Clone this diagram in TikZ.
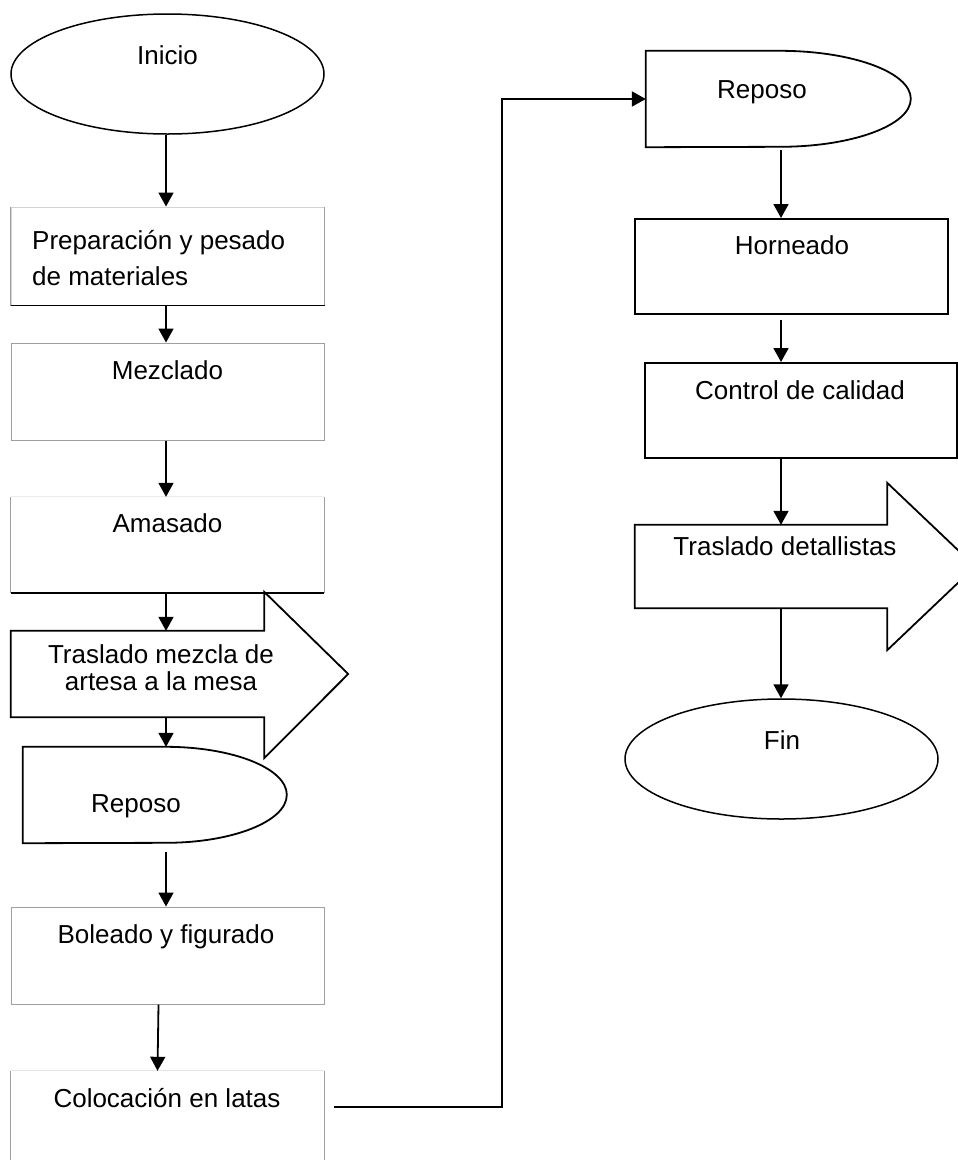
\documentclass[tikz,border=0pt]{standalone}
\usepackage{fontspec}
\setmainfont{Liberation Sans}
\usetikzlibrary{arrows.meta,shapes.geometric}
\newcommand\flfs{\fontsize{26}{31}\selectfont}
\begin{document}
\begin{tikzpicture}[x=1pt,y=-1pt,
  lbox/.style={draw=gray!75,line width=1pt,rectangle,minimum width=313pt,inner sep=0pt},
  rbox/.style={draw=black,line width=2pt,rectangle,minimum width=313pt,inner sep=0pt},
  hid/.style={draw=none,rectangle,inner sep=0pt},
  term/.style={draw=black,line width=1.5pt,ellipse,minimum width=313pt,minimum height=120pt,inner sep=0pt},
  txt/.style={font=\flfs,anchor=base,inner sep=0pt},
  shp/.style={draw=black,line width=1.8pt,line join=miter},
  arr/.style={-{Triangle[width=15pt,length=14pt]},line width=1.8pt},
  conn/.style={line width=2pt}]
\useasboundingbox (0,0) rectangle (958,1160);
\clip (0,0) rectangle (958,1160);
\coordinate (lx) at (166,0);
\coordinate (rx) at (781,0);
% left column
\node[term] (ini) at (167.5,74) {};
\node[txt] at (167.5,64) {Inicio};
\node[lbox,minimum height=98pt,draw=gray!35] (prep) at (167.5,256) {};
\draw[gray!75,line width=1pt] (prep.north west) -- (prep.south west) (prep.north east) -- (prep.south east);
\draw[line width=1.5pt] (prep.south west) -- (prep.south east);
\node[txt,anchor=base west] at (32,249) {Preparación y pesado};
\node[txt,anchor=base west] at (32,285) {de materiales};
\node[lbox,minimum height=97pt] (mez) at (167.5,391.5) {};
\node[txt] at (167.5,379) {Mezclado};
\node[hid,minimum width=313pt,minimum height=96pt] (ama) at (167.5,545) {};
\draw[gray!75,line width=1pt] (ama.north west) -- (ama.south west) (ama.north east) -- (ama.south east);
\draw[gray!15,line width=1pt] (ama.north west) -- (ama.north east);
\draw[line width=1.5pt] (ama.south west) -- (ama.south east);
\node[txt] at (167.5,532) {Amasado};
\node[hid,minimum width=253pt,minimum height=86pt] (tr1) at (137.5,674) {};
\draw[shp] (tr1.north west) -- (tr1.north east) -- ([yshift=39pt]tr1.north east)
  -- ([xshift=84pt]tr1.east) -- ([yshift=-41pt]tr1.south east) -- (tr1.south east)
  -- (tr1.south west) -- cycle;
\node[txt] at (161,663) {Traslado mezcla de};
\node[txt] at (161,690) {artesa a la mesa};
\node[hid,minimum width=264pt,minimum height=96pt] (rep1) at (155,795) {};
\draw[shp] (rep1.north west) -- ++(143,0) arc[start angle=-90,end angle=90,x radius=121,y radius=48]
  -- (rep1.south west) -- cycle;
\node[txt] at (136,812) {Reposo};
\node[lbox,minimum height=97pt] (bol) at (167.5,955.5) {};
\node[txt] at (166,943) {Boleado y figurado};
\node[hid,minimum width=313pt,minimum height=104pt] (col) at (167.5,1123) {};
\draw[gray!75,line width=1pt] (col.north west) -- (col.south west) (col.north east) -- (col.south east);
\draw[gray!20,line width=1pt] (col.north west) -- (col.north east);
\node[txt] at (167,1107) {Colocación en latas};
\coordinate (c0) at (334,1107);
% right column
\node[hid,minimum width=265pt,minimum height=96pt] (rep2) at (778.5,99) {};
\draw[shp] (rep2.north west) -- ++(134,0) arc[start angle=-90,end angle=90,x radius=131,y radius=48]
  -- (rep2.south west) -- cycle;
\node[txt] at (762,98) {Reposo};
\node[rbox,minimum height=95pt] (hor) at (791.5,266.5) {};
\node[txt] at (792,254) {Horneado};
\node[rbox,minimum height=95pt,minimum width=312pt] (con) at (801,410.5) {};
\node[txt] at (800,399) {Control de calidad};
\node[hid,minimum width=252pt,minimum height=83pt] (tr2) at (761,566.5) {};
\draw[shp] (tr2.north west) -- (tr2.north east) -- ([yshift=42pt]tr2.north east)
  -- ([xshift=88pt]tr2.east) -- ([yshift=-42pt]tr2.south east) -- (tr2.south east)
  -- (tr2.south west) -- cycle;
\node[txt] at (785,555) {Traslado detallistas};
\node[term] (fin) at (781.5,759) {};
\node[txt] at (782,749) {Fin};
% connectors
\draw[arr] (ini.south -| lx) -- (prep.north -| lx);
\draw[arr] (prep.south -| lx) -- (mez.north -| lx);
\draw[arr] (mez.south -| lx) -- (ama.north -| lx);
\draw[arr] (ama.south -| lx) -- (tr1.north -| lx);
\draw[arr] (tr1.south -| lx) -- (rep1.north -| lx);
\draw[arr] (rep1.south -| lx) ++(0,9) -- (bol.north -| lx);
\draw[arr] ([xshift=-9pt]bol.south) -- ([xshift=-10pt]col.north);
\draw[arr,conn] (c0) -| ([xshift=-144pt]rep2.west) -- (rep2.west);
\draw[arr] (rep2.south -| rx) ++(0,3) -- (hor.north -| rx);
\draw[arr] (hor.south -| rx) ++(0,5) -- (con.north -| rx);
\draw[arr] (con.south -| rx) -- (tr2.north -| rx);
\draw[arr] (tr2.south -| rx) -- (fin.north -| rx);
\end{tikzpicture}
\end{document}
